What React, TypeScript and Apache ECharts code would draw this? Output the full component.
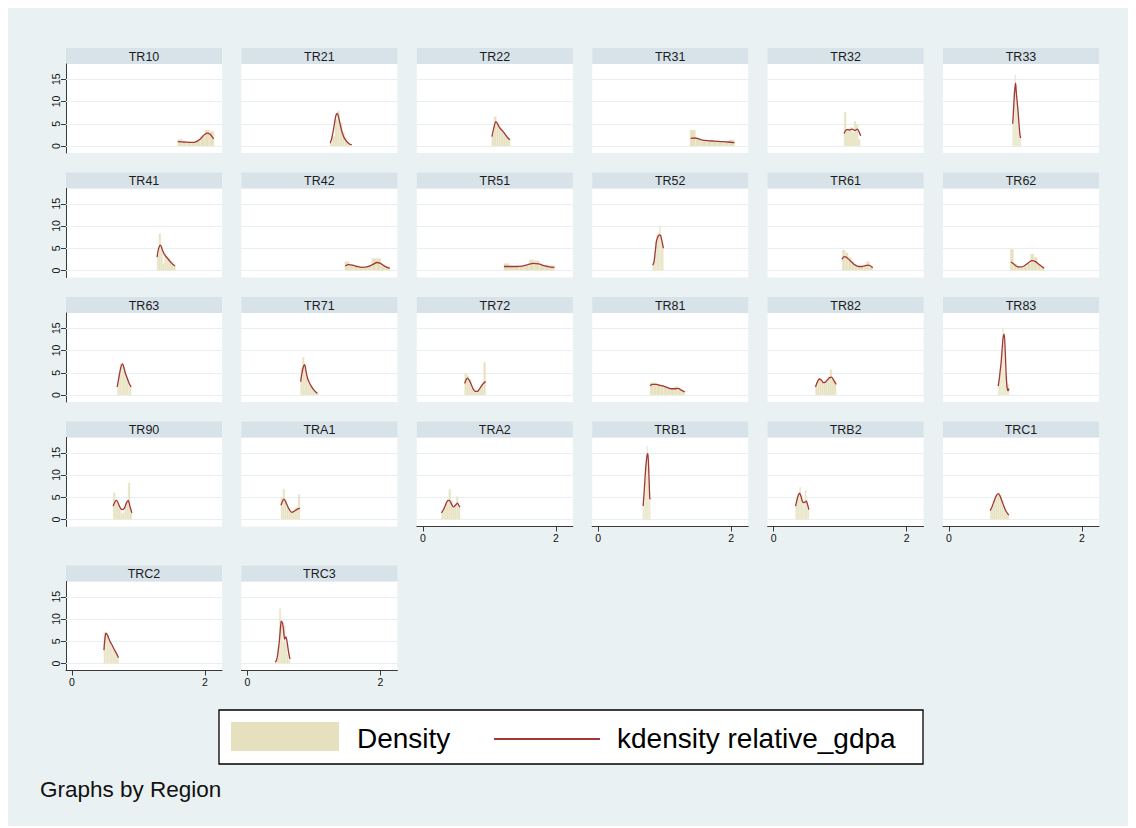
import React, { useEffect, useRef } from "react";
import * as echarts from "echarts";

// Panel names, in display order (6 per row)
const regions = [
  "TR10", "TR21", "TR22", "TR31", "TR32", "TR33",
  "TR41", "TR42", "TR51", "TR52", "TR61", "TR62",
  "TR63", "TR71", "TR72", "TR81", "TR82", "TR83",
  "TR90", "TRA1", "TRA2", "TRB1", "TRB2", "TRC1",
  "TRC2", "TRC3",
];

// Histogram: left edge of first bin and bin width for each region
const binStart = [
  1.59, 1.245, 1.036, 1.38, 1.06, 0.958,
  1.28, 1.465, 1.22, 0.82, 1.03, 0.92,
  0.68, 0.80, 0.63, 0.78, 0.63, 0.74,
  0.62, 0.505, 0.28, 0.67, 0.33, 0.62,
  0.48, 0.41,
];
const binWidth = [
  0.068, 0.036, 0.0345, 0.0835, 0.03, 0.015,
  0.0275, 0.0675, 0.076, 0.02, 0.046, 0.051,
  0.021, 0.027, 0.0315, 0.052, 0.031, 0.016,
  0.028, 0.0285, 0.028, 0.0125, 0.02, 0.028,
  0.022, 0.023,
];

// Histogram bin densities
const binHeights = [
  [1.5, 1.0, 0.8, 0.8, 1.1, 2.2, 3.6, 3.3],
  [0.6, 2.2, 6.0, 7.8, 5.2, 3.0, 1.8, 0.8, 0.4],
  [2.5, 6.6, 5.0, 4.2, 3.6, 2.8, 2.4, 1.8],
  [3.6, 1.5, 1.1, 1.2, 1.0, 0.9, 0.9, 1.4],
  [7.6, 3.6, 3.8, 4.2, 3.0, 5.5, 4.8, 1.5],
  [5.0, 12.0, 16.0, 14.0, 9.0, 6.0, 3.5, 2.0],
  [3.5, 8.3, 5.5, 1.6, 3.8, 3.2, 2.8, 2.0, 1.8, 1.0],
  [2.0, 1.3, 1.1, 0.8, 0.7, 1.1, 2.7, 2.7, 1.3, 0.9],
  [1.6, 0.9, 0.9, 1.0, 1.1, 2.4, 2.2, 1.2, 1.2, 1.1],
  [1.5, 3.0, 6.5, 8.0, 8.5, 10.0, 8.0, 5.5],
  [4.6, 4.0, 3.0, 2.0, 1.2, 0.9, 0.9, 1.3, 2.0, 1.0],
  [4.8, 1.5, 0.8, 0.6, 0.9, 1.6, 3.7, 3.0, 1.5, 1.0],
  [2.5, 5.0, 7.0, 7.2, 6.5, 5.5, 4.5, 3.5, 2.5, 1.8],
  [6.0, 8.5, 6.5, 4.0, 2.5, 2.0, 1.5, 1.0, 0.6, 0.5],
  [4.8, 4.4, 3.5, 1.5, 0.8, 0.8, 1.0, 1.8, 2.5, 7.3],
  [2.8, 2.7, 2.4, 2.1, 1.9, 1.6, 1.4, 1.9, 1.6, 0.9],
  [2.0, 3.8, 3.4, 2.9, 2.6, 3.5, 3.8, 5.7, 3.8, 3.0],
  [2.5, 4.0, 6.5, 10.0, 15.0, 12.0, 5.0, 3.0, 2.0, 2.5],
  [6.0, 4.5, 3.5, 2.5, 1.5, 1.5, 3.0, 4.0, 8.2, 2.0],
  [5.0, 6.8, 4.5, 3.0, 2.2, 1.5, 2.0, 2.5, 2.8, 5.6],
  [2.0, 2.5, 3.5, 4.5, 6.8, 4.3, 2.5, 3.2, 5.2, 3.0],
  [2.5, 4.0, 6.0, 9.0, 13.0, 16.5, 15.0, 8.0, 5.0],
  [3.5, 5.0, 6.0, 7.2, 5.5, 4.0, 3.0, 6.5, 4.5, 2.5],
  [2.2, 3.2, 4.5, 5.6, 6.0, 5.5, 4.3, 3.0, 2.0, 1.2],
  [7.0, 6.8, 6.2, 5.5, 4.8, 4.0, 3.3, 2.6, 2.0, 1.4],
  [0.5, 1.0, 4.0, 12.3, 9.0, 5.0, 8.5, 4.5, 2.0, 0.8],
];

// Kernel density estimate of relative_gdpa: evaluation points and values
const kdX = [
  [1.59, 1.65, 1.72, 1.8, 1.87, 1.93, 1.98, 2.03, 2.08, 2.13],
  [1.245, 1.27, 1.3, 1.33, 1.35, 1.37, 1.4, 1.43, 1.46, 1.5, 1.54, 1.57],
  [1.04, 1.07, 1.1, 1.13, 1.16, 1.2, 1.24, 1.28, 1.31],
  [1.39, 1.45, 1.55, 1.65, 1.75, 1.85, 1.95, 2.05],
  [1.06, 1.1, 1.14, 1.18, 1.22, 1.26, 1.29, 1.31],
  [0.958, 0.97, 0.985, 1.0, 1.012, 1.025, 1.04, 1.055, 1.068, 1.078],
  [1.28, 1.3, 1.33, 1.36, 1.39, 1.42, 1.46, 1.5, 1.55],
  [1.47, 1.52, 1.58, 1.65, 1.72, 1.8, 1.88, 1.95, 2.0, 2.06, 2.14],
  [1.22, 1.3, 1.4, 1.5, 1.58, 1.66, 1.74, 1.82, 1.9, 1.98],
  [0.82, 0.84, 0.86, 0.875, 0.89, 0.91, 0.93, 0.95, 0.97, 0.98],
  [1.03, 1.06, 1.09, 1.13, 1.18, 1.23, 1.28, 1.33, 1.38, 1.43, 1.49],
  [0.93, 0.97, 1.01, 1.05, 1.1, 1.15, 1.2, 1.25, 1.3, 1.36, 1.43],
  [0.68, 0.7, 0.72, 0.74, 0.76, 0.78, 0.8, 0.83, 0.86, 0.89],
  [0.8, 0.82, 0.84, 0.86, 0.88, 0.9, 0.93, 0.96, 0.99, 1.02, 1.05],
  [0.63, 0.65, 0.67, 0.7, 0.73, 0.76, 0.79, 0.82, 0.85, 0.88, 0.91, 0.945],
  [0.78, 0.82, 0.86, 0.9, 0.95, 1.0, 1.05, 1.1, 1.15, 1.2, 1.25, 1.3],
  [0.63, 0.66, 0.69, 0.72, 0.75, 0.78, 0.81, 0.84, 0.87, 0.9, 0.94],
  [0.74, 0.755, 0.77, 0.785, 0.8, 0.815, 0.83, 0.845, 0.86, 0.875, 0.89, 0.9],
  [0.62, 0.645, 0.67, 0.7, 0.73, 0.76, 0.79, 0.82, 0.845, 0.87, 0.9],
  [0.505, 0.53, 0.55, 0.58, 0.61, 0.64, 0.67, 0.7, 0.73, 0.76, 0.79],
  [0.28, 0.31, 0.34, 0.37, 0.4, 0.43, 0.46, 0.49, 0.52, 0.54, 0.56],
  [0.675, 0.69, 0.705, 0.72, 0.735, 0.745, 0.755, 0.765, 0.775, 0.78],
  [0.33, 0.35, 0.37, 0.39, 0.41, 0.43, 0.45, 0.47, 0.49, 0.51, 0.53],
  [0.62, 0.65, 0.68, 0.71, 0.74, 0.77, 0.8, 0.83, 0.86, 0.9],
  [0.48, 0.49, 0.5, 0.51, 0.53, 0.55, 0.57, 0.6, 0.63, 0.66, 0.7],
  [0.42, 0.44, 0.46, 0.48, 0.5, 0.51, 0.53, 0.55, 0.56, 0.58, 0.6, 0.62, 0.64],
];
const kdY = [
  [1.0, 0.95, 0.85, 0.8, 1.0, 1.6, 2.4, 2.9, 2.6, 1.6],
  [0.6, 1.8, 4.2, 6.8, 7.3, 6.6, 4.5, 2.8, 1.7, 0.9, 0.4, 0.3],
  [2.1, 4.2, 5.5, 4.8, 4.0, 3.4, 2.6, 1.8, 1.4],
  [1.7, 1.8, 1.4, 1.2, 1.1, 1.0, 0.9, 0.75],
  [2.8, 3.7, 3.6, 3.8, 3.5, 3.8, 3.0, 2.3],
  [5.0, 8.0, 12.0, 14.1, 12.0, 10.0, 7.5, 4.5, 2.4, 1.8],
  [3.0, 4.8, 5.7, 4.6, 3.6, 3.0, 2.3, 1.6, 1.0],
  [1.0, 1.3, 1.2, 0.9, 0.7, 0.8, 1.3, 1.8, 1.6, 1.0, 0.5],
  [0.9, 0.9, 0.9, 1.0, 1.3, 1.6, 1.5, 1.1, 0.8, 0.7],
  [1.2, 2.0, 4.5, 6.5, 7.3, 7.9, 8.0, 7.2, 5.8, 5.0],
  [2.5, 3.1, 3.0, 2.5, 1.8, 1.2, 0.9, 0.9, 1.1, 1.2, 0.6],
  [1.9, 1.5, 1.0, 0.8, 0.8, 1.2, 1.8, 2.2, 2.0, 1.3, 0.5],
  [1.8, 3.5, 5.2, 6.5, 7.0, 6.2, 5.0, 3.8, 2.6, 1.8],
  [3.0, 4.8, 6.3, 6.8, 5.5, 4.0, 2.8, 2.0, 1.3, 0.8, 0.4],
  [2.6, 3.4, 3.8, 3.3, 2.3, 1.3, 0.8, 0.8, 1.3, 2.0, 2.6, 3.0],
  [2.1, 2.4, 2.4, 2.3, 2.1, 1.9, 1.6, 1.4, 1.4, 1.5, 1.1, 0.7],
  [1.8, 3.0, 3.6, 3.3, 2.8, 2.9, 3.4, 3.9, 4.0, 3.4, 2.4],
  [2.0, 3.5, 5.5, 7.5, 10.5, 13.0, 13.7, 10.0, 4.5, 1.5, 1.0, 1.5],
  [3.0, 4.0, 4.3, 3.5, 2.5, 2.2, 2.6, 3.8, 4.3, 3.0, 1.5],
  [3.2, 4.2, 4.6, 3.8, 2.8, 2.0, 1.6, 1.8, 2.1, 2.4, 2.5],
  [1.5, 2.2, 3.2, 4.2, 4.3, 3.5, 2.8, 3.2, 3.7, 3.2, 2.8],
  [3.0, 6.0, 9.5, 12.5, 14.5, 14.8, 13.0, 9.0, 5.0, 4.5],
  [3.0, 4.3, 5.4, 5.9, 5.3, 4.2, 3.8, 3.9, 4.1, 3.4, 2.2],
  [2.0, 3.0, 4.2, 5.3, 5.8, 5.2, 4.0, 2.8, 1.8, 1.0],
  [3.0, 4.8, 6.2, 6.8, 6.5, 5.8, 5.0, 4.2, 3.3, 2.5, 1.3],
  [0.3, 0.8, 2.5, 5.0, 8.5, 9.5, 9.0, 6.5, 5.5, 6.0, 4.5, 2.5, 1.0],
];

const xTicks = [0, 2];
const yTicks = [0, 5, 10, 15];
const X_MIN = -0.0902;
const X_MAX = 2.2556;
const Y_MIN = -1.573;
const Y_MAX = 18.43;

const FONT = "'Liberation Sans', Arial, Helvetica, sans-serif";
const BG = "#eaf1f3";
const STRIP = "#d7e3e9";
const BAR = "#e6e0bf";
const LINE = "#a13838";

// Panel geometry (chart-local pixels)
const COLS = 6;
const colLeft = [58, 233.4, 408.8, 584.2, 759.6, 935];
const rowTop = [40, 164.5, 289, 413.5, 557.5];
const PANEL_W = 156;
const STRIP_H = 16;
const PLOT_H = 89;

function buildOption() {
  const grid: any[] = [];
  const xAxis: any[] = [];
  const yAxis: any[] = [];
  const series: any[] = [];
  const graphic: any[] = [];

  regions.forEach((name, i) => {
    const row = Math.floor(i / COLS);
    const col = i % COLS;
    const left = colLeft[col];
    const top = rowTop[row];
    const showX = (row === 3 && col >= 2) || row === 4;
    const showY = col === 0;

    grid.push({
      left,
      top: top + STRIP_H,
      width: PANEL_W,
      height: PLOT_H,
      show: true,
      backgroundColor: "#ffffff",
      borderWidth: 0,
    });

    xAxis.push({
      type: "value",
      gridIndex: i,
      min: X_MIN,
      max: X_MAX,
      show: showX,
      axisLine: { show: true, onZero: false, lineStyle: { color: "#3a3a3a", width: 1 } },
      axisTick: { show: true, length: 5, customValues: xTicks, lineStyle: { color: "#3a3a3a" } },
      axisLabel: {
        customValues: xTicks,
        fontSize: 10.5,
        color: "#111",
        margin: 6,
        fontFamily: FONT,
      },
      splitLine: { show: false },
    });

    yAxis.push({
      type: "value",
      gridIndex: i,
      min: Y_MIN,
      max: Y_MAX,
      show: showY,
      axisLine: { show: true, onZero: false, lineStyle: { color: "#3a3a3a", width: 1 } },
      axisTick: { show: true, length: 5, customValues: yTicks, lineStyle: { color: "#3a3a3a" } },
      axisLabel: {
        customValues: yTicks,
        rotate: 90,
        fontSize: 10.5,
        color: "#111",
        margin: 5,
        fontFamily: FONT,
      },
      splitLine: { show: false },
    });

    // light horizontal grid lines at the y ticks
    series.push({
      type: "line",
      xAxisIndex: i,
      yAxisIndex: i,
      data: [],
      silent: true,
      z: 1,
      markLine: {
        silent: true,
        symbol: "none",
        z: 1,
        label: { show: false },
        lineStyle: { color: "#e8eff1", width: 1, type: "solid" },
        data: yTicks.map((v) => ({ yAxis: v })),
      },
    });

    const start = binStart[i];
    const w = binWidth[i];
    series.push({
      type: "custom",
      name: "Density",
      xAxisIndex: i,
      yAxisIndex: i,
      z: 2,
      silent: true,
      itemStyle: { color: BAR },
      encode: { x: [0, 1], y: 2 },
      data: binHeights[i].map((h, k) => [start + k * w, start + (k + 1) * w, h]),
      renderItem: (_params: any, api: any) => {
        const p0 = api.coord([api.value(0), api.value(2)]);
        const p1 = api.coord([api.value(1), 0]);
        return {
          type: "rect",
          shape: { x: p0[0], y: p0[1], width: p1[0] - p0[0], height: p1[1] - p0[1] },
          style: { fill: BAR, stroke: "#f1eedb", lineWidth: 0.5 },
        };
      },
    });

    series.push({
      type: "line",
      name: "kdensity relative_gdpa",
      xAxisIndex: i,
      yAxisIndex: i,
      z: 3,
      silent: true,
      symbol: "none",
      showSymbol: false,
      smooth: 0.3,
      lineStyle: { color: LINE, width: 1.3 },
      data: kdX[i].map((x, k) => [x, kdY[i][k]]),
    });

    // panel title strip
    graphic.push({
      type: "rect",
      left,
      top,
      shape: { width: PANEL_W, height: STRIP_H },
      style: { fill: STRIP },
      silent: true,
    });
    graphic.push({
      type: "text",
      x: left + PANEL_W / 2,
      y: top + STRIP_H / 2 + 0.5,
      style: {
        text: name,
        fill: "#1c1c1c",
        font: `12.5px ${FONT}`,
        textAlign: "center",
        textVerticalAlign: "middle",
      },
      silent: true,
    });
  });

  // legend box
  graphic.push({
    type: "rect",
    shape: { x: 211, y: 702, width: 704, height: 54 },
    style: { fill: "#ffffff", stroke: "#000000", lineWidth: 1.3 },
    silent: true,
  });
  graphic.push({
    type: "rect",
    shape: { x: 223, y: 714, width: 108, height: 29 },
    style: { fill: BAR },
    silent: true,
  });
  graphic.push({
    type: "text",
    x: 349,
    y: 730,
    style: {
      text: "Density",
      fill: "#000",
      font: `28px ${FONT}`,
      textAlign: "left",
      textVerticalAlign: "middle",
    },
    silent: true,
  });
  graphic.push({
    type: "line",
    shape: { x1: 486, y1: 731, x2: 592, y2: 731 },
    style: { stroke: LINE, lineWidth: 2 },
    silent: true,
  });
  graphic.push({
    type: "text",
    x: 609,
    y: 730,
    style: {
      text: "kdensity relative_gdpa",
      fill: "#000",
      font: `28px ${FONT}`,
      textAlign: "left",
      textVerticalAlign: "middle",
    },
    silent: true,
  });
  graphic.push({
    type: "text",
    x: 32,
    y: 781,
    style: {
      text: "Graphs by Region",
      fill: "#111",
      font: `22.5px ${FONT}`,
      textAlign: "left",
      textVerticalAlign: "middle",
    },
    silent: true,
  });

  return {
    animation: false,
    backgroundColor: BG,
    grid,
    xAxis,
    yAxis,
    series,
    graphic,
  };
}

export default function App() {
  const ref = useRef<HTMLDivElement>(null);
  useEffect(() => {
    if (!ref.current) return;
    const chart = echarts.init(ref.current, undefined, { renderer: "svg" });
    chart.setOption(buildOption());
    return () => chart.dispose();
  }, []);
  return <div ref={ref} style={{ width: 1122, height: 818 }} />;
}
